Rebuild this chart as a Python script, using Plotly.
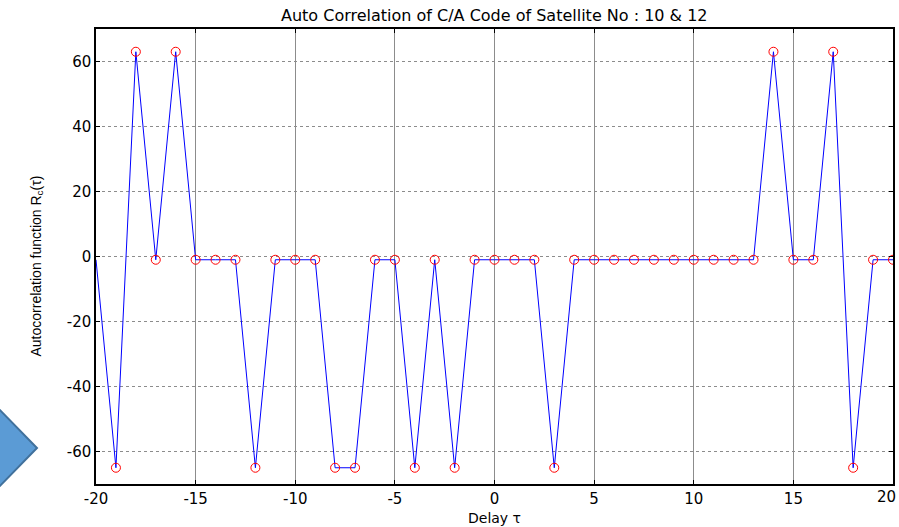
import plotly.graph_objects as go

delay = list(range(-20, 21))
acf = [-1, -65, 63, -1, 63, -1, -1, -1, -65, -1, -1, -1, -65, -65, -1, -1, -65, -1, -65, -1,
       -1, -1, -1, -65, -1, -1, -1, -1, -1, -1, -1, -1, -1, -1, 63, -1, -1, 63, -65, -1, -1]
x_ticks = [-20, -15, -10, -5, 0, 5, 10, 15, 20]
y_ticks = [-60, -40, -20, 0, 20, 40, 60]

FONT = "DejaVu Sans, sans-serif"
FONT_Y = "Arial, Liberation Sans, sans-serif"

fig = go.Figure()
fig.add_trace(go.Scatter(x=delay, y=acf, mode="lines",
                         line=dict(color="#0000ff", width=1), showlegend=False, cliponaxis=True))
fig.add_trace(go.Scatter(x=delay[1:], y=acf[1:], mode="markers",
                         marker=dict(symbol="circle-open", color="#ff0000", size=9, line=dict(width=1)),
                         showlegend=False, cliponaxis=True))

axis_common = dict(showline=True, linecolor="black", linewidth=1.5, mirror="allticks",
                   ticks="inside", ticklen=4, tickcolor="black", zeroline=False, automargin=False,
                   tickfont=dict(family=FONT, size=15, color="black"))

# the last x label sits on the figure edge; it is drawn as an annotation kept inside the page
fig.update_xaxes(range=[-20, 20], tickvals=x_ticks[:-1], ticktext=[str(v) for v in x_ticks[:-1]],
                 showgrid=True, gridcolor="#8c8c8c", gridwidth=1, **axis_common)
fig.update_yaxes(range=[-70, 70], tickvals=y_ticks, ticktext=[str(v) for v in y_ticks],
                 showgrid=True, gridcolor="#8c8c8c", gridwidth=1, griddash="dot", **axis_common)

fig.update_layout(
    width=899, height=527, autosize=False,
    margin=dict(l=96, r=6, t=29, b=43, autoexpand=False),
    plot_bgcolor="white", paper_bgcolor="white",
    font=dict(family=FONT, color="black"),
    annotations=[
        dict(text="Auto Correlation of C/A Code of Satellite No : 10 & 12", xref="paper", yref="paper",
             x=0.5, y=1, yshift=14, xanchor="center", yanchor="middle", showarrow=False,
             font=dict(family=FONT, size=16, color="black")),
        dict(text=str(x_ticks[-1]), xref="x", yref="paper", x=x_ticks[-1], y=0, yshift=-13,
             xshift=5, xanchor="right", yanchor="middle", showarrow=False,
             font=dict(family=FONT, size=15, color="black")),
        dict(text="Delay τ", xref="paper", yref="paper", x=0.5, y=0, yshift=-34,
             xanchor="center", yanchor="middle", showarrow=False,
             font=dict(family=FONT, size=14, color="black")),
        dict(text="Autocorrelation function R<sub>c</sub>(τ)", xref="paper", yref="paper",
             x=0, xshift=-60, y=0.5, yshift=-10, xanchor="center", yanchor="middle", textangle=-90,
             showarrow=False, font=dict(family=FONT_Y, size=14, color="black")),
    ],
    shapes=[dict(type="path", xref="paper", yref="paper",
                 xsizemode="pixel", ysizemode="pixel", xanchor=0, yanchor=0,
                 path="M -100 78 L -59 36 L -100 -6 Z",
                 fillcolor="#5b9bd5", line=dict(color="#41719c", width=2))],
)

fig.write_html("out.html")
